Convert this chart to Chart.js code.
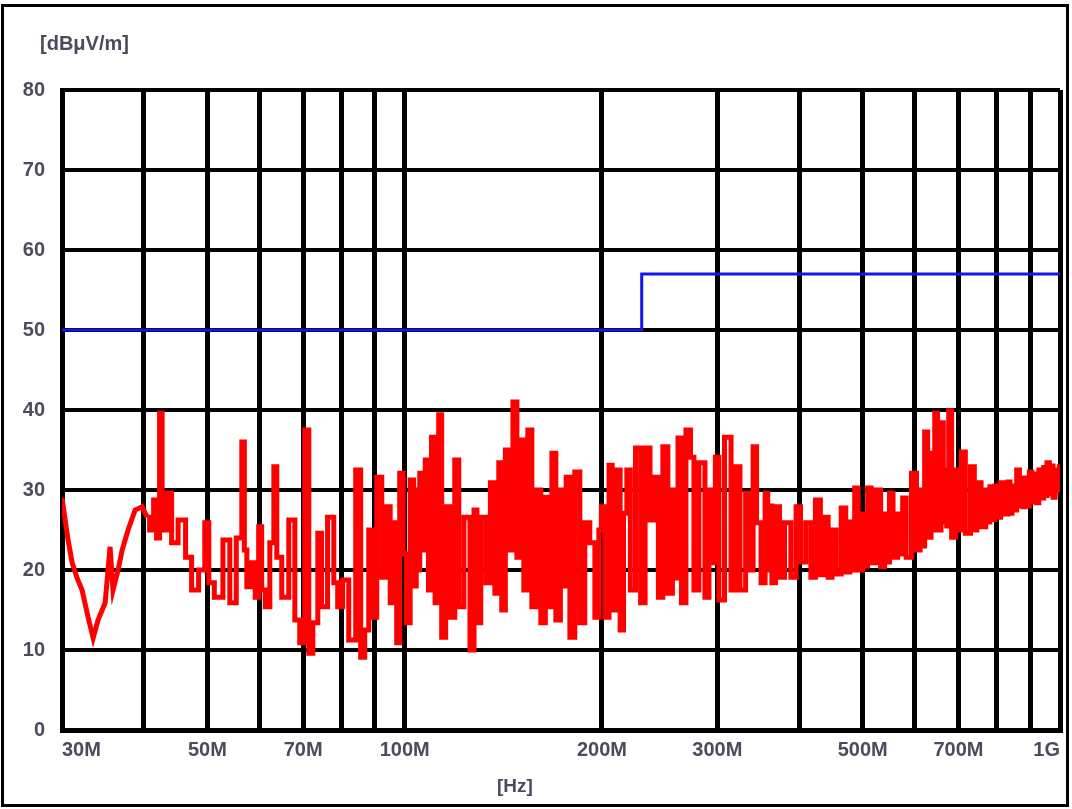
<!DOCTYPE html>
<html>
<head>
<meta charset="utf-8">
<script src="https://cdn.jsdelivr.net/npm/chart.js@4/dist/chart.umd.min.js"></script>
<style>
  body { margin: 0; background: #fff; }
  #wrap { position: relative; width: 1072px; height: 809px; overflow: hidden; }
  #myChart { position: absolute; left: 0; top: 0; }
  .frame { position: absolute; left: 1px; top: 4px; width: 1068px; height: 803px;
           border: 3px solid #000; box-sizing: border-box; pointer-events: none; }
  .unit { position: absolute; font-family: "Liberation Sans", Arial, sans-serif;
          font-weight: bold; color: #4b4b5c; white-space: nowrap; }
</style>
</head>
<body>
<div id="wrap">
  <canvas id="myChart" width="1072" height="809"></canvas>
  <div class="frame"></div>
  <div class="unit" style="left:40px; top:32px; font-size:20px;">[dBμV/m]</div>
  <div class="unit" style="left:497px; top:775px; font-size:19px;">[Hz]</div>
</div>
<script>
// frequency in MHz, level in dBuV/m
const traceFreq = [
  30.0, 30.65, 31.09, 31.63, 32.19, 32.88, 33.47, 34.05, 34.91, 35.52,
  35.89, 36.54, 37.06, 37.84, 38.79, 39.75, 40.46, 41.18, 41.61, 42.04,
  42.5, 42.8, 43.86, 44.33, 45.9, 46.73, 47.88, 49.09, 50.0, 50.5,
  51.98, 53.64, 54.56, 56.13, 56.73, 57.14, 57.74, 58.75, 59.56, 60.18,
  60.84, 61.72, 62.82, 63.48, 64.14, 65.73, 67.39, 68.58, 69.76, 71.02,
  71.79, 73.06, 74.34, 75.0, 77.55, 78.37, 79.7, 81.16, 83.18, 85.22,
  86.14, 87.68, 88.61, 89.54, 91.79, 92.76, 94.38, 95.71, 96.73, 97.76,
  98.78, 100.15, 101.2, 102.7, 103.7, 104.6, 105.2, 105.7, 106.8, 108.2,
  109.3, 110.5, 112.1, 113.3, 114.5, 116.5, 118.2, 120.3, 121.6, 124.7,
  126.9, 128.3, 129.5, 131.8, 134.2, 136.1, 138.5, 139.9, 141.4, 143.5,
  145.0, 147.6, 149.1, 151.2, 152.8, 155.5, 157.2, 159.9, 162.8, 165.1,
  166.9, 168.6, 171.6, 174.1, 175.6, 177.2, 180.2, 183.4, 186.7, 189.9,
  193.4, 196.8, 198.9, 200.3, 203.9, 206.2, 208.4, 212.1, 214.3, 217.2,
  219.4, 222.6, 227.5, 230.7, 234.8, 238.8, 242.2, 245.6, 249.9, 254.4,
  258.1, 260.0, 262.6, 266.3, 271.1, 274.9, 277.7, 284.7, 289.8, 292.8,
  295.9, 300.0, 303.3, 312.0, 317.6, 321.9, 327.8, 334.9, 338.4, 342.0,
  346.7, 352.9, 356.8, 359.5, 362.1, 364.7, 371.3, 375.3, 384.5, 392.4,
  398.9, 404.8, 413.7, 419.7, 427.2, 434.6, 439.1, 446.6, 451.2, 459.4,
  467.8, 474.5, 481.1, 484.4, 487.8, 496.2, 503.4, 507.0, 510.5, 519.7,
  528.8, 536.2, 543.6, 547.4, 551.2, 561.3, 569.3, 573.4, 577.4, 587.5,
  599.6, 608.3, 614.9, 619.3, 623.7, 632.4, 639.0, 642.3, 645.6, 654.8,
  661.9, 665.4, 669.0, 674.2, 678.6, 688.1, 697.6, 703.6, 710.5, 723.7,
  736.8, 743.4, 750.0, 765.8, 775.0, 779.0, 784.2, 793.0, 798.0, 803.0,
  820.9, 829.8, 835.8, 841.8, 848.0, 855.0, 862.7, 871.6, 876.1, 880.6,
  887.0, 894.0, 901.7, 910.0, 918.3, 925.0, 931.7, 941.7, 947.0, 952.0,
  958.3, 968.3, 973.3, 978.3, 988.4, 995.1, 1000.0
];
const traceLevel = [
  29, 23.75, 20.9, 19, 17.5, 14.1, 11.5, 13.75, 15.9, 22.9,
  17.5, 20, 22.5, 25, 27.5, 27.9, 26.6, 25, 28.75, 24,
  39.6, 25, 29.6, 23.4, 26.25, 21.6, 17.5, 20, 25.9, 18.4,
  16.6, 23.75, 15.9, 24, 36, 22.5, 17.9, 20.9, 16.6, 25.4,
  17.5, 15.4, 23.4, 32.9, 21.6, 16.6, 26.25, 13.75, 10.9, 37.5,
  9.6, 13.4, 24.6, 15.4, 26.6, 18.4, 15.4, 18.75, 11.25, 32.5,
  9.1, 12.5, 25, 14.1, 31.6, 19.1, 27.9, 15.9, 25.9, 10.9,
  32.1, 22, 13.4, 31.25, 18, 30, 20, 32.1, 22.5, 33.75,
  17.5, 36.6, 15.9, 39.4, 11.6, 27.9, 14.1, 33.75, 15.4, 26.6,
  10, 27.5, 13.4, 26.6, 18.4, 30.9, 17.1, 33.4, 15, 35,
  22.5, 41, 21.6, 36.25, 17.5, 37.5, 15.4, 30, 13.4, 29.1,
  15.4, 34.6, 13.75, 30, 18, 31.6, 11.6, 32.25, 13.4, 25.9,
  23.4, 14.1, 25, 27.9, 14.1, 33.1, 15, 32.5, 12.5, 27.1,
  32.5, 17.5, 35.25, 15.9, 35.25, 26.25, 31.6, 16.6, 35.4, 17.1,
  30, 19, 36.5, 15.9, 37.5, 34.1, 17.5, 33.4, 16.6, 30,
  20.9, 34.1, 16.25, 36.6, 17.5, 32.9, 17.5, 29.6, 20, 35.4,
  25.9, 18.4, 29.6, 20, 28, 18.4, 27.9, 19.1, 25.9, 19.1,
  27.9, 21, 25.9, 19.1, 28.75, 19.4, 26.6, 19.1, 25, 19.5,
  27.75, 19.75, 26, 20, 30.25, 20, 27, 20.5, 30.25, 20.9,
  30, 20.4, 27, 21, 29.6, 21.6, 27, 22, 29, 21.6,
  32.1, 22.5, 30, 23, 37.25, 24.1, 34.6, 25, 39.6, 25,
  38.4, 26, 32.5, 25.5, 39.9, 24.1, 32.5, 25, 34.75, 24.6,
  32.9, 25, 30.9, 25.4, 30, 26, 30.4, 26.3, 30.5, 26.6,
  30.9, 27, 31, 27.1, 30.5, 27.5, 32.5, 28, 31.5, 27.9,
  31.5, 28, 32.25, 28.5, 32, 28.4, 32.5, 29, 32.8, 29.3,
  33.4, 29.5, 33, 29.1, 32.5, 30, 32.9
];

const limitFreq = [30, 230, 230, 1000];
const limitLevel = [50, 50, 57, 57];

const xTickValues = [30, 40, 50, 60, 70, 80, 90, 100, 200, 300, 400, 500, 600, 700, 800, 900, 1000];
const xTickLabels = ['30M', '', '50M', '', '70M', '', '', '100M', '200M', '300M', '', '500M', '', '700M', '', '', '1G'];
const yTickValues = [0, 10, 20, 30, 40, 50, 60, 70, 80];

const tickFont = {family: 'Liberation Sans', size: 20, weight: 'bold'};
const tickColor = '#4b4b5c';

// the smooth low-frequency part is drawn as a plain line, the rest as steps
const splitAt = 16;
const tracePoints = traceFreq.map((f, i) => ({x: f, y: traceLevel[i]}));

const ch = document.getElementById('myChart');
const emiChart = new Chart(ch, {
    type: 'line',
    data: {
        datasets: [{
            label: 'Limit',
            data: limitFreq.map((f, i) => ({x: f, y: limitLevel[i]})),
            borderColor: 'rgb(20, 20, 235)',
            borderWidth: 3,
            pointRadius: 0,
            tension: 0
        }, {
            label: 'Level',
            data: tracePoints.slice(0, splitAt + 1),
            borderColor: 'rgb(255, 0, 0)',
            borderWidth: 5,
            pointRadius: 0,
            tension: 0
        }, {
            label: 'Level',
            data: tracePoints.slice(splitAt),
            borderColor: 'rgb(255, 0, 0)',
            borderWidth: 5,
            borderJoinStyle: 'miter',
            pointRadius: 0,
            stepped: 'middle'
        }]
    },
    options: {
        responsive: false,
        animation: false,
        devicePixelRatio: 1,
        layout: {padding: {left: 0, top: 90, right: 12, bottom: 0}},
        plugins: {legend: {display: false}, tooltip: {enabled: false}},
        scales: {
            x: {
                type: 'logarithmic',
                min: 30,
                max: 1000,
                afterBuildTicks: (s) => { s.ticks = xTickValues.map(v => ({value: v})); },
                afterFit: (s) => { s.height = 79; },
                ticks: {
                    autoSkip: false,
                    maxRotation: 0,
                    align: 'inner',
                    padding: 8,
                    color: tickColor,
                    font: tickFont,
                    callback: (v, i) => xTickLabels[i]
                },
                grid: {color: '#000', lineWidth: 5, drawTicks: false},
                border: {color: '#000', width: 5}
            },
            y: {
                min: 0,
                max: 80,
                afterBuildTicks: (s) => { s.ticks = yTickValues.map(v => ({value: v})); },
                afterFit: (s) => { s.width = 62; },
                ticks: {
                    padding: 17,
                    color: tickColor,
                    font: tickFont,
                    callback: (v) => String(v)
                },
                grid: {color: '#000', lineWidth: 4, drawTicks: false},
                border: {color: '#000', width: 5}
            }
        }
    }
});
</script>
</body>
</html>
